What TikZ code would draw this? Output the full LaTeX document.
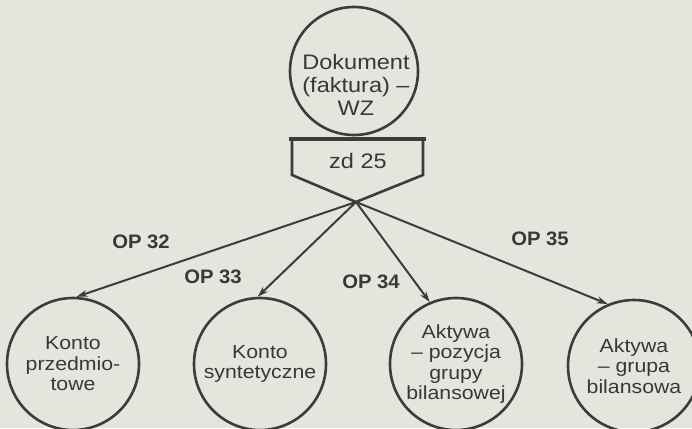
\documentclass[tikz,border=0pt]{standalone}
\usepackage{fontspec}
\setmainfont[FakeStretch=1.12]{Liberation Sans}
\newfontfamily\labelfont[FakeStretch=1.04]{Liberation Sans}
\usetikzlibrary{arrows.meta}
\definecolor{paper}{RGB}{229,229,221}
\definecolor{ink}{RGB}{62,60,58}
\definecolor{txt}{RGB}{58,56,53}
\begin{document}
\begin{tikzpicture}[x=1pt,y=-1pt,
  circ/.style={circle,draw=ink,line width=2.6pt,minimum size=132pt,inner sep=0pt,text=txt,align=center,font=\fontsize{19}{20.5}\selectfont},
  lbl/.style={text=txt,inner sep=0pt,font=\fontsize{19}{20}\selectfont},
  oplbl/.style={text=txt,inner sep=0pt,font=\labelfont\bfseries\fontsize{19.5}{20}\selectfont},
  arr/.style={draw=ink,line width=2pt,-{Stealth[length=11pt,width=7pt]}},
  boxline/.style={draw=ink,line width=2.6pt,line join=miter}]
\fill[paper] (0,0) rectangle (692,428);
\useasboundingbox (0,0) rectangle (692,428);
% top circle
\node[circ,minimum size=128pt] (doc) at (354,71) {};
\node[lbl,align=center,font=\fontsize{21}{23}\selectfont] (doctext) at (356,85) {Dokument\\(faktura) –\\WZ};
% box
\draw[boxline] (292,140) -- (292,175) -- (356,202) -- (423,175) -- (423,140);
\draw[draw=ink,line width=4pt] (289,139) -- (426,139);
\node[lbl,font=\fontsize{21}{23}\selectfont] (zd) at (358,161) {zd 25};
\coordinate (tip) at (356,202);
% bottom circles
\node[circ] (c1) at (73,364) {Konto\\przedmio-\\towe};
\node[circ] (c2) at (260,364) {Konto\\syntetyczne};
\node[circ] (c3) at (456,364) {Aktywa\\– pozycja\\grupy\\bilansowej};
\node[circ] (c4) at (634,366) {Aktywa\\– grupa\\bilansowa};
% arrows
\draw[arr] (tip) -- (c1.87);
\draw[arr] (tip) -- (c2.92);
\draw[arr] (tip) -- (c3.113);
\draw[arr] (tip) -- (c4.113);
% labels
\node[oplbl] (op32) at (141,242) {OP 32};
\node[oplbl] (op33) at (213,277) {OP 33};
\node[oplbl] (op34) at (371,282) {OP 34};
\node[oplbl] (op35) at (540,239) {OP 35};
\end{tikzpicture}
\end{document}
